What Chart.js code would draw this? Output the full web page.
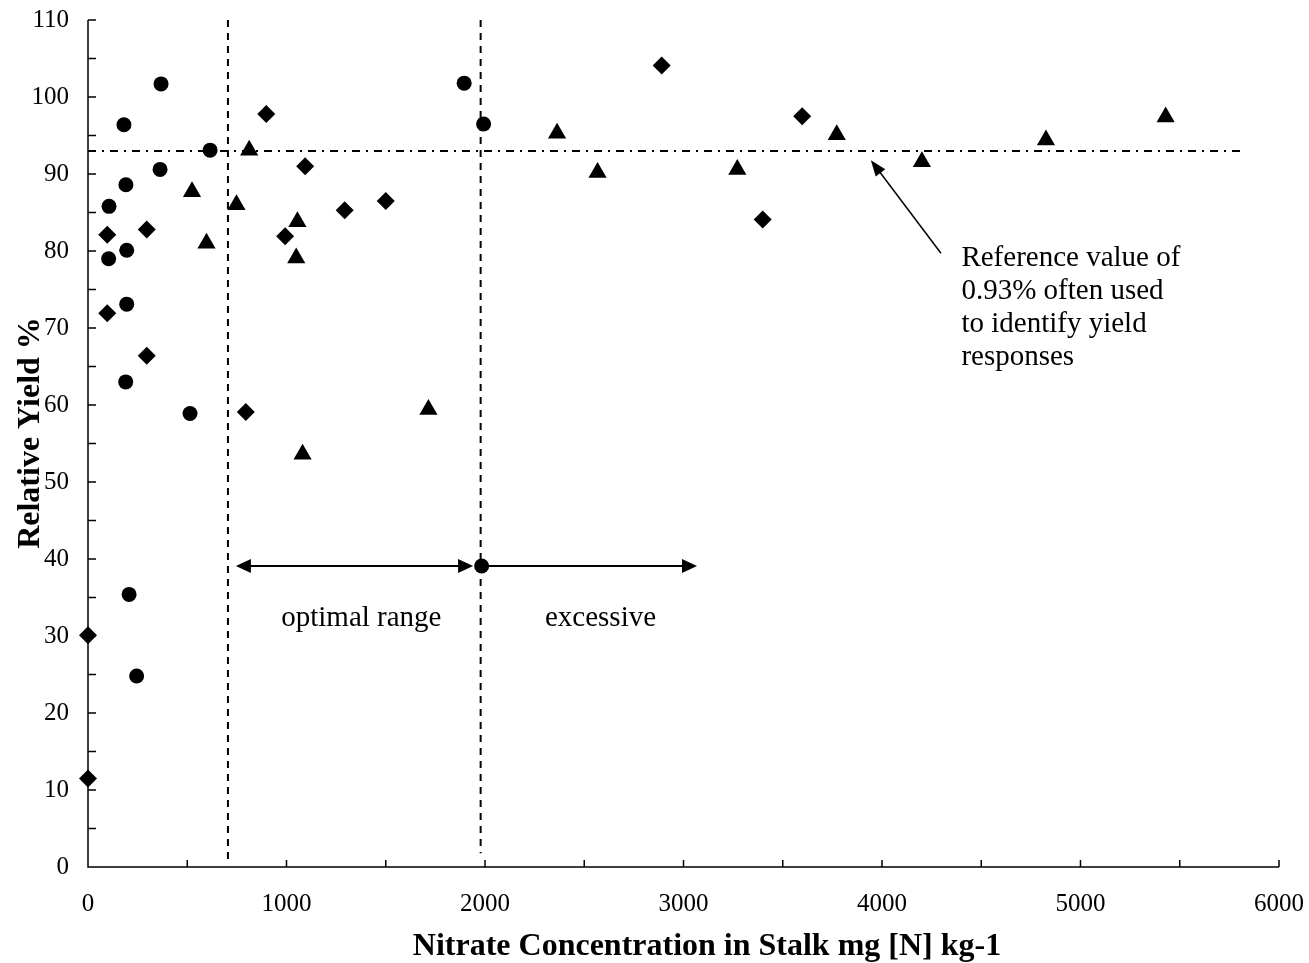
<!DOCTYPE html>
<html>
<head>
<meta charset="utf-8">
<script src="https://cdn.jsdelivr.net/npm/chart.js@4/dist/chart.umd.min.js"></script>
<style>
  body { margin: 0; background: #fff; }
</style>
</head>
<body>
<canvas id="chart" width="1309" height="963"></canvas>
<script>
// circles
const circleX = [368, 181, 615, 363, 191, 106, 195, 104, 195, 190, 514, 207, 245, 1895, 1993, 1983];
const circleY = [101.7, 96.4, 93.1, 90.6, 88.6, 85.8, 80.1, 79.0, 73.1, 63.0, 58.9, 35.4, 24.8, 101.8, 96.5, 39.1];
// diamonds
const diamondX = [898, 1094, 1293, 1500, 97, 296, 993, 97, 296, 795, 0, 0, 2890, 3399, 3598];
const diamondY = [97.8, 91.0, 85.3, 86.5, 82.1, 82.8, 81.9, 71.9, 66.4, 59.1, 30.1, 11.5, 104.1, 84.1, 97.5];
// triangles
const triangleX = [812, 524, 748, 1055, 597, 1049, 1715, 1081, 2363, 2567, 3271, 3772, 4201, 4826, 5429];
const triangleY = [93.1, 87.7, 86.0, 83.8, 81.0, 79.1, 59.4, 53.6, 95.3, 90.2, 90.6, 95.1, 91.6, 94.4, 97.4];

const xTitle = 'Nitrate Concentration in Stalk mg [N] kg-1';
const yTitle = 'Relative Yield %';
const refLines = ['Reference value of', '0.93% often used', 'to identify yield', 'responses'];

const serif = '"Liberation Serif", "Times New Roman", serif';

function pts(xs, ys) {
  return xs.map((x, i) => ({ x: x, y: ys[i] }));
}

function arrowHead(ctx, x0, y0, x1, y1, len, half) {
  const a = Math.atan2(y1 - y0, x1 - x0);
  ctx.beginPath();
  ctx.moveTo(x1, y1);
  ctx.lineTo(x1 - len * Math.cos(a) + half * Math.sin(a), y1 - len * Math.sin(a) - half * Math.cos(a));
  ctx.lineTo(x1 - len * Math.cos(a) - half * Math.sin(a), y1 - len * Math.sin(a) + half * Math.cos(a));
  ctx.closePath();
  ctx.fill();
}

// chart.js pads the area for the end labels, we want the area fixed
function noPad(s) {
  s.paddingTop = 0;
  s.paddingBottom = 0;
  s.paddingLeft = 0;
  s.paddingRight = 0;
}

const overlay = {
  id: 'overlay',
  beforeDatasetsDraw(chart) {
    const { ctx, scales: { x, y } } = chart;
    ctx.save();
    ctx.strokeStyle = '#000';
    ctx.lineWidth = 2;

    // vertical dashed lines
    ctx.setLineDash([7, 6]);
    ctx.beginPath();
    ctx.moveTo(x.getPixelForValue(705), y.getPixelForValue(110));
    ctx.lineTo(x.getPixelForValue(705), y.getPixelForValue(0.9));
    ctx.moveTo(x.getPixelForValue(1978), y.getPixelForValue(110));
    ctx.lineTo(x.getPixelForValue(1978), y.getPixelForValue(1.8));
    ctx.stroke();

    // dash-dot reference line
    ctx.setLineDash([8, 6, 2, 6]);
    ctx.beginPath();
    ctx.moveTo(x.getPixelForValue(0), y.getPixelForValue(93));
    ctx.lineTo(x.getPixelForValue(5805), y.getPixelForValue(93));
    ctx.stroke();
    ctx.setLineDash([]);

    // range arrows
    ctx.fillStyle = '#000';
    const ay = y.getPixelForValue(39.1);
    const a1 = x.getPixelForValue(745), a2 = x.getPixelForValue(1940);
    const b1 = x.getPixelForValue(1983), b2 = x.getPixelForValue(3068);
    ctx.beginPath();
    ctx.moveTo(a1 + 10, ay); ctx.lineTo(a2 - 10, ay);
    ctx.moveTo(b1, ay); ctx.lineTo(b2 - 10, ay);
    ctx.stroke();
    arrowHead(ctx, a2, ay, a1, ay, 15, 7);
    arrowHead(ctx, a1, ay, a2, ay, 15, 7);
    arrowHead(ctx, b1, ay, b2, ay, 15, 7);

    // pointer arrow
    const px0 = x.getPixelForValue(4297), py0 = y.getPixelForValue(79.7);
    const px1 = x.getPixelForValue(3944), py1 = y.getPixelForValue(91.8);
    ctx.lineWidth = 1.5;
    ctx.beginPath();
    ctx.moveTo(px0, py0);
    ctx.lineTo(px1 + (px0 - px1) * 0.1, py1 + (py0 - py1) * 0.1);
    ctx.stroke();
    arrowHead(ctx, px0, py0, px1, py1, 16, 6);

    // texts
    ctx.font = '29px ' + serif;
    ctx.textAlign = 'center';
    ctx.textBaseline = 'alphabetic';
    ctx.fillText('optimal range', x.getPixelForValue(1377), y.getPixelForValue(31.3));
    ctx.fillText('excessive', x.getPixelForValue(2582), y.getPixelForValue(31.3));
    ctx.textAlign = 'left';
    const tx = x.getPixelForValue(4400), ty = y.getPixelForValue(78);
    refLines.forEach((t, i) => ctx.fillText(t, tx, ty + i * 33));
    ctx.restore();
  },
  afterDraw(chart) {
    const { ctx, chartArea: ca, scales: { x, y } } = chart;
    ctx.save();
    ctx.strokeStyle = '#000';
    ctx.lineWidth = 1.5;
    ctx.beginPath();
    ctx.moveTo(ca.left, ca.top);
    ctx.lineTo(ca.left, ca.bottom);
    ctx.lineTo(ca.right, ca.bottom);
    for (let v = 0; v <= 6000; v += 500) {
      const p = x.getPixelForValue(v);
      ctx.moveTo(p, ca.bottom);
      ctx.lineTo(p, ca.bottom - 7);
    }
    for (let v = 0; v <= 110; v += 5) {
      const p = y.getPixelForValue(v);
      ctx.moveTo(ca.left, p);
      ctx.lineTo(ca.left + 8, p);
    }
    ctx.stroke();

    // axis titles
    ctx.fillStyle = '#000';
    ctx.font = 'bold 32px ' + serif;
    ctx.textAlign = 'center';
    ctx.textBaseline = 'alphabetic';
    ctx.fillText(xTitle, 707, 955);
    ctx.translate(39, 433);
    ctx.rotate(-Math.PI / 2);
    ctx.fillText(yTitle, 0, 0);
    ctx.restore();
  }
};

new Chart(document.getElementById('chart'), {
  type: 'scatter',
  data: {
    datasets: [
      { label: 'circles', data: pts(circleX, circleY), pointStyle: 'circle', pointRadius: 7.5,
        backgroundColor: '#000', borderColor: '#000', borderWidth: 0, clip: false },
      { label: 'diamonds', data: pts(diamondX, diamondY), pointStyle: 'rectRot', pointRadius: 9,
        backgroundColor: '#000', borderColor: '#000', borderWidth: 0, clip: false },
      { label: 'triangles', data: pts(triangleX, triangleY), pointStyle: 'triangle', pointRadius: 10.5,
        backgroundColor: '#000', borderColor: '#000', borderWidth: 0, clip: false }
    ]
  },
  options: {
    responsive: false,
    animation: false,
    devicePixelRatio: 1,
    layout: { padding: { top: 20, right: 30, left: 0, bottom: 0 } },
    plugins: { legend: { display: false }, tooltip: { enabled: false } },
    scales: {
      x: {
        type: 'linear', min: 0, max: 6000,
        grid: { display: false, drawTicks: false },
        border: { display: false },
        ticks: { stepSize: 1000, padding: 22, maxRotation: 0, color: '#000',
                 font: { family: serif, size: 25 }, callback: v => String(v) },
        afterFit(s) { s.height = 96; noPad(s); }
      },
      y: {
        min: 0, max: 110,
        grid: { display: false, drawTicks: false },
        border: { display: false },
        ticks: { stepSize: 10, padding: 19, color: '#000',
                 font: { family: serif, size: 25 }, callback: v => String(v) },
        afterFit(s) { s.width = 88; noPad(s); }
      }
    }
  },
  plugins: [overlay]
});
</script>
</body>
</html>
